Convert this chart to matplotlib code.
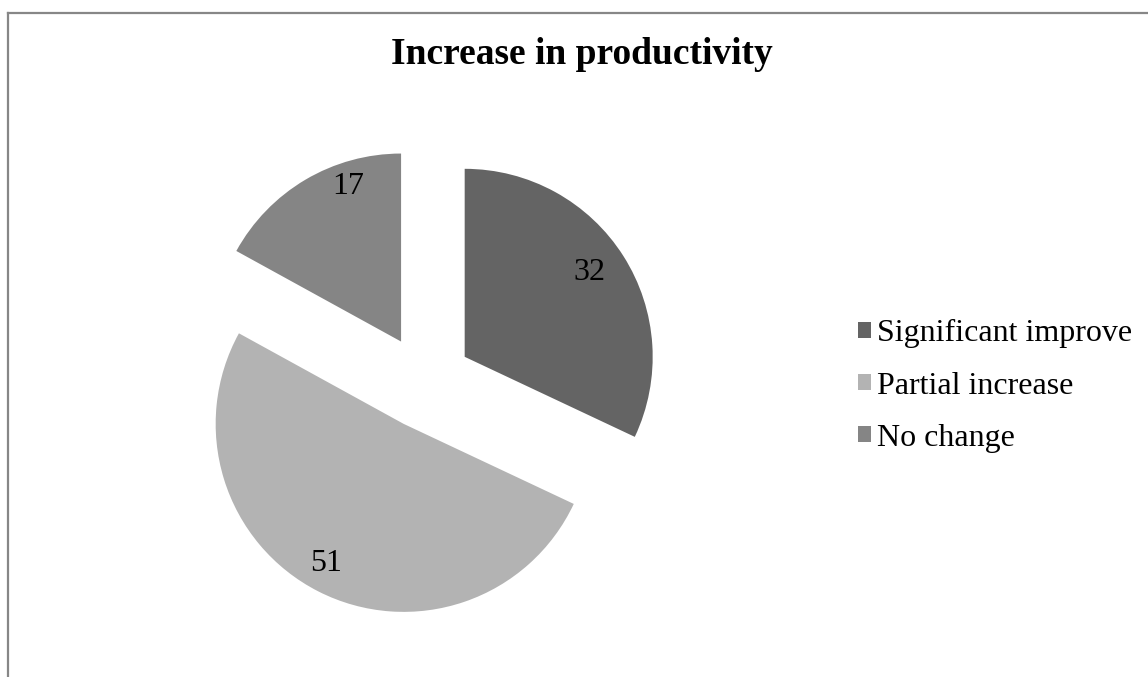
import numpy as np
import matplotlib
matplotlib.use('Agg')
import matplotlib.pyplot as plt
from matplotlib.patches import Patch
from matplotlib.lines import Line2D

plt.rcParams['font.family'] = ['Liberation Serif', 'DejaVu Serif']

title = 'Increase in productivity'
categories = ['Significant improve', 'Partial increase', 'No change']
values = [32, 51, 17]
colors = ['#646464', '#b3b3b3', '#858585']

W, H = 1148, 677
R = 188.0          # pie radius in pixels
cx, cy = 425, 382  # pie centre in pixels (from top-left)

fig = plt.figure(figsize=(W / 100, H / 100), dpi=100)
ax = fig.add_axes([0, 0, 1, 1])
wedges, _ = ax.pie(values, colors=colors, startangle=90, counterclock=False,
                   explode=[0.25] * len(values), radius=1.0,
                   wedgeprops=dict(linewidth=0))
ax.set_xlim(-cx / R, (W - cx) / R)
ax.set_ylim(-(H - cy) / R, cy / R)
ax.axis('off')

# data labels (distance from wedge apex, angle in degrees)
label_place = [(0.80, 34), (0.85, 241), (0.87, 109)]
for w, v, (d, a) in zip(wedges, values, label_place):
    x0, y0 = w.center
    ax.text(x0 + d * np.cos(np.radians(a)), y0 + d * np.sin(np.radians(a)),
            str(v), ha='center', va='center', fontsize=23, color='black')

fig.text(582 / W, 1 - 55 / H, title, ha='center', va='center',
         fontsize=27, fontweight='bold')

handles = [Patch(facecolor=c, edgecolor='none') for c in colors]
fig.legend(handles, categories, loc='center left',
           bbox_to_anchor=(858 / W, 1 - 386 / H), frameon=False,
           fontsize=23, handlelength=0.4, handleheight=0.4,
           handletextpad=0.2, labelspacing=0.73, borderpad=0,
           borderaxespad=0)

# chart-area border (left and top visible)
fig.add_artist(Line2D([8 / W, 8 / W], [0, 1 - 13 / H], transform=fig.transFigure,
                      color='#878787', linewidth=1.6))
fig.add_artist(Line2D([8 / W, 1], [1 - 13 / H, 1 - 13 / H], transform=fig.transFigure,
                      color='#878787', linewidth=1.6))

fig.savefig('out.png', dpi=100)
